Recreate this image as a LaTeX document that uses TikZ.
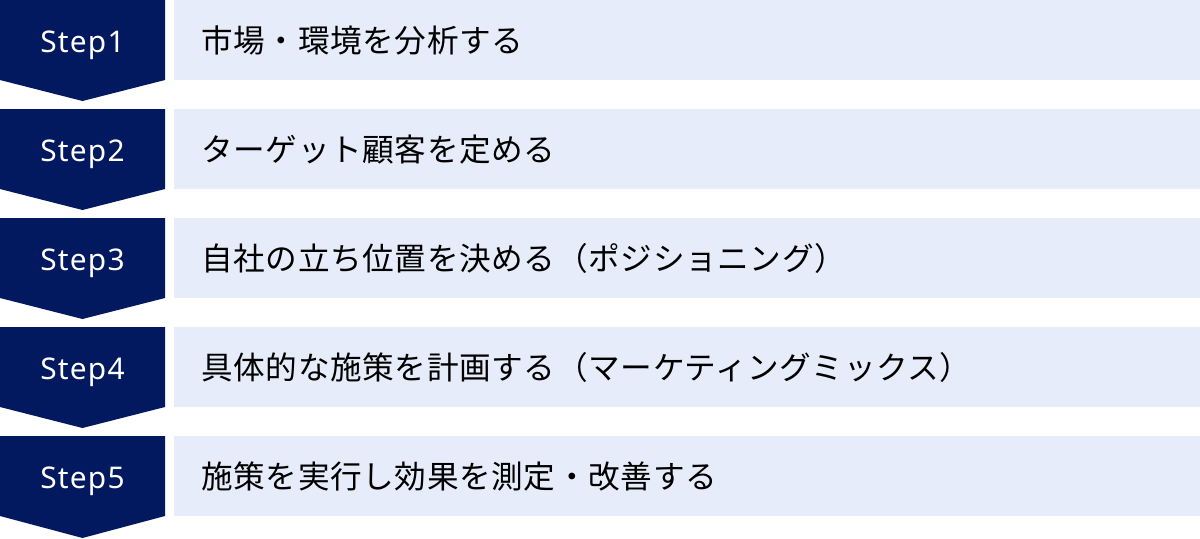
\documentclass[tikz,border=0pt]{standalone}
\usepackage{fontspec}
\setmainfont{Noto Sans CJK JP}[LetterSpace=2]
\newfontfamily\stepfont{Noto Sans}[LetterSpace=4]
\definecolor{stepnavy}{HTML}{02185F}
\definecolor{itemblue}{HTML}{E6ECF9}
\tikzset{
  steplabel/.style={text=white, font=\stepfont\fontsize{17pt}{17pt}\selectfont, anchor=base, inner sep=0pt},
  itemlabel/.style={text=black, font=\fontsize{18pt}{18pt}\selectfont, anchor=base west, inner sep=0pt},
}
\begin{document}
\begin{tikzpicture}
                \useasboundingbox (0,0) rectangle (24,-10.76);
                
                % Drawing step 1
                \fill [stepnavy] (0,0) -- (3.3,0) -- (3.3,-1.6) -- (1.65,-2.02) -- (0,-1.6) -- cycle;%
                \fill [itemblue] (3.48,0) rectangle (24,-1.6);%
                \node [steplabel] (s1) at (1.65,-1.04) {Step1};%
                \node [itemlabel] (t1) at (4.02,-1.05) {市場・環境を分析する};%
                
                % Drawing step 2
                \fill [stepnavy] (0,-2.18) -- (3.3,-2.18) -- (3.3,-3.78) -- (1.65,-4.2) -- (0,-3.78) -- cycle;%
                \fill [itemblue] (3.48,-2.18) rectangle (24,-3.78);%
                \node [steplabel] (s2) at (1.65,-3.22) {Step2};%
                \node [itemlabel] (t2) at (4.02,-3.23) {ターゲット顧客を定める};%
                
                % Drawing step 3
                \fill [stepnavy] (0,-4.36) -- (3.3,-4.36) -- (3.3,-5.96) -- (1.65,-6.38) -- (0,-5.96) -- cycle;%
                \fill [itemblue] (3.48,-4.36) rectangle (24,-5.96);%
                \node [steplabel] (s3) at (1.65,-5.4) {Step3};%
                \node [itemlabel] (t3) at (4.02,-5.41) {自社の立ち位置を決める（ポジショニング）};%
                
                % Drawing step 4
                \fill [stepnavy] (0,-6.54) -- (3.3,-6.54) -- (3.3,-8.14) -- (1.65,-8.56) -- (0,-8.14) -- cycle;%
                \fill [itemblue] (3.48,-6.54) rectangle (24,-8.14);%
                \node [steplabel] (s4) at (1.65,-7.58) {Step4};%
                \node [itemlabel] (t4) at (4.02,-7.59) {具体的な施策を計画する（マーケティングミックス）};%
                
                % Drawing step 5
                \fill [stepnavy] (0,-8.72) -- (3.3,-8.72) -- (3.3,-10.32) -- (1.65,-10.76) -- (0,-10.32) -- cycle;%
                \fill [itemblue] (3.48,-8.72) rectangle (24,-10.32);%
                \node [steplabel] (s5) at (1.65,-9.76) {Step5};%
                \node [itemlabel] (t5) at (4.02,-9.77) {施策を実行し効果を測定・改善する};%
            \end{tikzpicture}
\end{document}
